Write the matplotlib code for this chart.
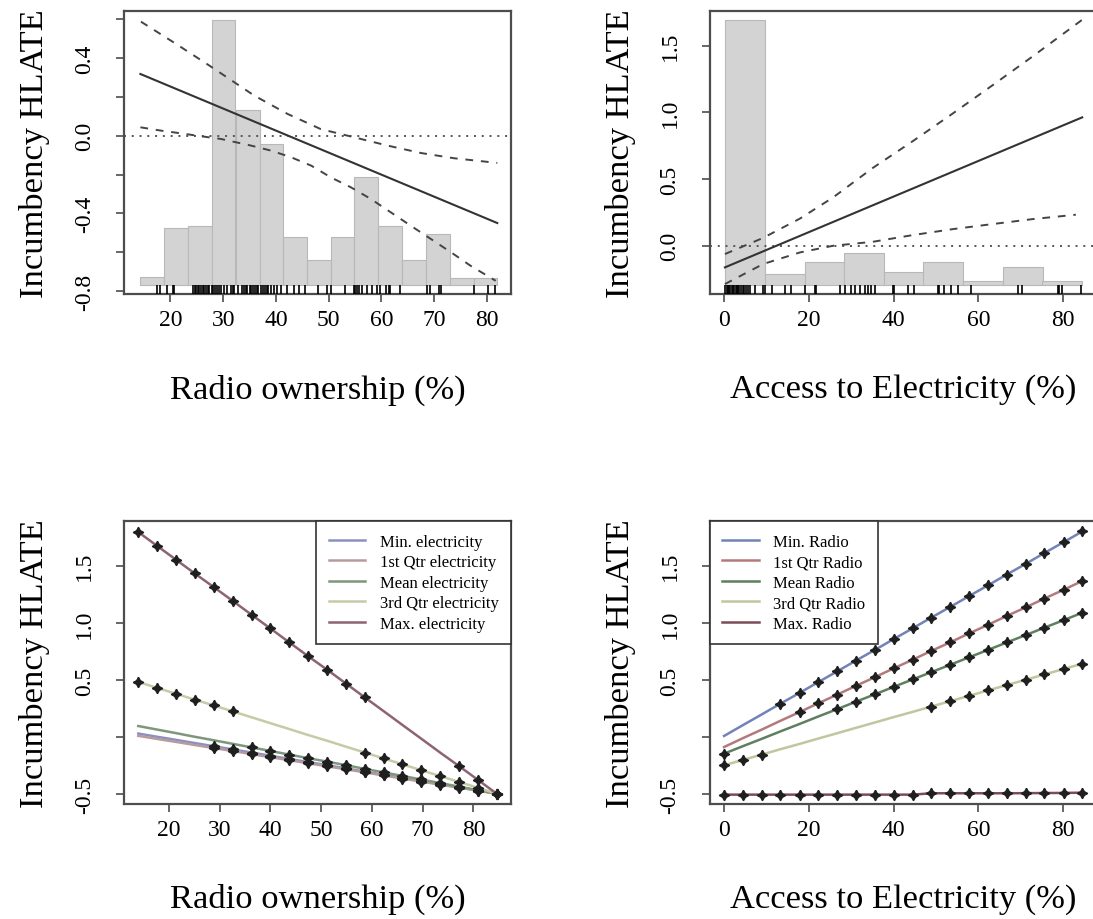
import matplotlib
matplotlib.use("Agg")
import matplotlib.pyplot as plt

plt.rcParams['font.family'] = ['Liberation Serif', 'DejaVu Serif']

# ---- top left: marginal effect of radio ownership ----
radio_bin_left = [14.3, 18.8, 23.3, 27.8, 32.4, 36.9, 41.4, 45.9, 50.4, 54.9, 59.4, 63.9, 68.5, 73.0, 77.5]
radio_bin_width = 4.5
radio_hist_top = [-0.728, -0.473, -0.463, 0.596, 0.134, -0.044, -0.519, -0.639, -0.519, -0.211,
                  -0.463, -0.639, -0.507, -0.733, -0.733]
radio_hist_base = -0.768

radio_line_x = [14.3, 82.0]
radio_line_y = [0.317, -0.449]
radio_upper_x = [14.4, 21.1, 27.4, 35.9, 42.2, 48.5, 54.8, 61.2, 67.5, 73.8, 82.0]
radio_upper_y = [0.586, 0.471, 0.360, 0.206, 0.112, 0.034, -0.008, -0.051, -0.089, -0.116, -0.140]
radio_lower_x = [14.3, 18.2, 22.0, 25.8, 29.6, 35.3, 39.1, 42.9, 46.7, 50.4, 54.2, 58.0, 61.8,
                 65.6, 69.4, 73.2, 76.9, 81.7]
radio_lower_y = [0.043, 0.026, 0.012, -0.003, -0.017, -0.051, -0.077, -0.111, -0.154, -0.214,
                 -0.265, -0.325, -0.394, -0.463, -0.531, -0.599, -0.668, -0.746]
radio_rug = [17.5, 18.0, 19.4, 20.4, 20.7, 24.2, 24.6, 24.9, 25.2, 25.5, 25.8, 26.1, 26.4, 26.8,
             27.1, 27.4, 27.8, 28.1, 28.5, 28.9, 29.3, 29.6, 30.2, 30.8, 31.4, 31.8, 32.1, 32.8,
             33.6, 34.0, 34.3, 34.6, 35.0, 35.3, 35.7, 36.0, 36.4, 36.7, 37.1, 37.5, 37.9, 38.3,
             38.6, 39.0, 39.6, 40.3, 40.9, 42.2, 43.4, 44.4, 45.6, 47.9, 49.7, 50.4, 53.2, 54.8,
             55.1, 55.4, 55.7, 56.4, 57.3, 58.3, 59.2, 59.8, 60.8, 61.4, 61.7, 63.6, 68.7, 69.3,
             70.9, 71.4, 77.5, 80.2, 81.6]

# ---- top right: marginal effect of electricity ----
elec_bin_left = [0.2, 9.6, 19.0, 28.3, 37.7, 47.0, 56.4, 65.8, 75.1]
elec_bin_width = 9.4
elec_hist_top = [1.695, -0.212, -0.125, -0.055, -0.195, -0.125, -0.263, -0.158, -0.263]
elec_hist_base = -0.295

elec_line_x = [0.2, 84.5]
elec_line_y = [-0.162, 0.963]
elec_upper_x = [0.2, 9.2, 17.9, 25.7, 35.1, 44.5, 54.0, 63.4, 72.8, 84.5]
elec_upper_y = [-0.062, 0.059, 0.204, 0.362, 0.584, 0.784, 0.993, 1.205, 1.420, 1.695]
elec_lower_x = [0.2, 9.2, 17.9, 25.7, 35.1, 44.5, 54.0, 63.4, 72.8, 83.0]
elec_lower_y = [-0.287, -0.137, -0.050, 0.000, 0.030, 0.080, 0.125, 0.163, 0.200, 0.233]
elec_rug = [0.3, 0.6, 0.9, 1.2, 1.5, 1.8, 2.1, 2.4, 2.7, 3.0, 3.3, 3.6, 4.0, 4.4, 4.8, 5.2, 5.6,
            6.0, 7.3, 9.2, 9.6, 11.2, 14.4, 15.9, 19.1, 21.4, 21.8, 27.3, 28.5, 30.0, 30.8, 32.0,
            33.2, 34.0, 34.7, 35.5, 39.8, 40.2, 43.4, 44.9, 50.4, 50.8, 52.0, 53.6, 55.1, 58.3,
            69.3, 70.4, 78.7, 79.1, 79.8, 84.2]

# ---- bottom left: predicted effect by radio at levels of electricity ----
radio_grid = [14.0, 17.7, 21.4, 25.1, 28.9, 32.6, 36.3, 40.0, 43.7, 47.4, 51.2, 54.9, 58.6, 62.3,
              66.0, 69.7, 73.4, 77.2, 80.9, 84.6]
by_elec_labels = ['Min. electricity', '1st Qtr electricity', 'Mean electricity',
                  '3rd Qtr electricity', 'Max. electricity']
by_elec_colors = ['#8a90c0', '#b99a9c', '#7c977c', '#c3cca6', '#8c6474']
by_elec_values = [
    [0.030, 0.002, -0.025, -0.053, -0.081, -0.109, -0.136, -0.164, -0.192, -0.219, -0.247,
     -0.275, -0.303, -0.331, -0.358, -0.386, -0.414, -0.441, -0.469, -0.497],
    [0.010, -0.017, -0.043, -0.070, -0.097, -0.123, -0.150, -0.177, -0.203, -0.230, -0.257,
     -0.283, -0.310, -0.337, -0.364, -0.390, -0.417, -0.444, -0.470, -0.497],
    [0.096, 0.065, 0.034, 0.002, -0.029, -0.060, -0.091, -0.122, -0.154, -0.185, -0.216,
     -0.247, -0.279, -0.310, -0.341, -0.372, -0.403, -0.435, -0.466, -0.497],
    [0.482, 0.430, 0.379, 0.327, 0.276, 0.224, 0.173, 0.121, 0.070, 0.018, -0.033, -0.085,
     -0.136, -0.188, -0.239, -0.291, -0.342, -0.394, -0.445, -0.497],
    [1.795, 1.674, 1.554, 1.433, 1.312, 1.192, 1.071, 0.951, 0.830, 0.709, 0.589, 0.468,
     0.347, 0.227, 0.106, -0.014, -0.135, -0.256, -0.376, -0.497],
]
by_elec_marked = [
    list(range(4, 20)),
    list(range(4, 20)),
    list(range(6, 20)),
    [0, 1, 2, 3, 4, 5, 12, 13, 14, 15, 16, 17, 18, 19],
    [0, 1, 2, 3, 4, 5, 6, 7, 8, 9, 10, 11, 12, 17, 18, 19],
]

# ---- bottom right: predicted effect by electricity at levels of radio ----
elec_grid = [0.0, 4.4, 8.9, 13.3, 17.8, 22.2, 26.7, 31.1, 35.6, 40.0, 44.5, 48.9, 53.4, 57.8,
             62.3, 66.7, 71.2, 75.6, 80.1, 84.5]
by_radio_labels = ['Min. Radio', '1st Qtr Radio', 'Mean Radio', '3rd Qtr Radio', 'Max. Radio']
by_radio_colors = ['#7183b7', '#b27a7c', '#5f7f5f', '#bec79e', '#7c4c58']
by_radio_values = [
    [0.009, 0.103, 0.198, 0.292, 0.386, 0.480, 0.575, 0.669, 0.763, 0.857, 0.952, 1.046,
     1.140, 1.234, 1.329, 1.423, 1.517, 1.612, 1.706, 1.800],
    [-0.088, -0.011, 0.065, 0.142, 0.218, 0.295, 0.371, 0.448, 0.524, 0.601, 0.677, 0.754,
     0.830, 0.907, 0.983, 1.060, 1.136, 1.213, 1.289, 1.366],
    [-0.146, -0.081, -0.016, 0.049, 0.114, 0.179, 0.244, 0.309, 0.374, 0.439, 0.504, 0.568,
     0.633, 0.698, 0.763, 0.828, 0.893, 0.958, 1.023, 1.088],
    [-0.248, -0.201, -0.154, -0.107, -0.061, -0.014, 0.033, 0.080, 0.127, 0.174, 0.220,
     0.267, 0.314, 0.361, 0.408, 0.455, 0.501, 0.548, 0.595, 0.642],
    [-0.505, -0.505, -0.505, -0.505, -0.505, -0.505, -0.505, -0.505, -0.505, -0.505, -0.505,
     -0.493, -0.493, -0.493, -0.493, -0.493, -0.492, -0.491, -0.490, -0.488],
]
by_radio_marked = [
    list(range(3, 20)),
    list(range(4, 20)),
    [0] + list(range(6, 20)),
    [0, 1, 2] + list(range(11, 20)),
    list(range(20)),
]

BOX = '#4d4d4d'
LINE = '#333333'


def style_axes(ax, xlim, ylim, xticks, yticks, ylabels, xlabel):
    ax.set_xlim(*xlim)
    ax.set_ylim(*ylim)
    ax.set_xticks(xticks, labels=[str(t) for t in xticks])
    ax.set_yticks(yticks, labels=ylabels)
    for lbl in ax.get_yticklabels():
        lbl.set_rotation(90)
        lbl.set_va('center')
    for s in ax.spines.values():
        s.set_color(BOX)
        s.set_linewidth(1.6)
    ax.tick_params(axis='both', direction='out', length=6, width=1.2, color=BOX,
                   labelsize=17)
    ax.tick_params(axis='x', pad=5)
    ax.tick_params(axis='y', pad=15)
    ax.set_xlabel(xlabel, fontsize=24.8, labelpad=31)
    ax.set_ylabel('Incumbency HLATE', fontsize=24.8, labelpad=17)


def draw_effect(ax, bin_left, width, tops, base, lx, ly, ux, uy, dx, dy, rug):
    ax.bar(bin_left, [t - base for t in tops], width=width, bottom=base, align='edge',
           color='#d3d3d3', edgecolor='#b8b8b8', linewidth=0.8, zorder=1)
    ax.axhline(0, color='#555555', lw=1.4, ls=(0, (1, 3)), zorder=2)
    ax.plot(lx, ly, color=LINE, lw=1.5, zorder=3)
    ax.plot(ux, uy, color='#444444', lw=1.4, ls=(0, (4, 4)), zorder=3)
    ax.plot(dx, dy, color='#444444', lw=1.4, ls=(0, (4, 4)), zorder=3)
    ax.vlines(rug, 0, 0.033, transform=ax.get_xaxis_transform(), color='black', lw=1.2,
              zorder=4)


def draw_lines(ax, grid, values, marked, colors, labels, loc):
    for vals, idx, col, lab in zip(values, marked, colors, labels):
        ax.plot(grid, vals, color=col, lw=1.8, label=lab, zorder=2)
        ax.plot([grid[i] for i in idx], [vals[i] for i in idx], ls='none',
                marker=(4, 1, 0), ms=7.5, color='#1f1f1f', zorder=3)
    leg = ax.legend(loc=loc, borderaxespad=0, fancybox=False, framealpha=1,
                    edgecolor='#333333', fontsize=12.0, handlelength=2.2,
                    handletextpad=0.85, labelspacing=0.27, borderpad=0.75)
    leg.get_frame().set_linewidth(1.2)


fig = plt.figure(figsize=(10.93, 9.2), dpi=100)

ax1 = fig.add_axes([0.1135, 0.6793, 0.354, 0.3077])
draw_effect(ax1, radio_bin_left, radio_bin_width, radio_hist_top, radio_hist_base,
            radio_line_x, radio_line_y, radio_upper_x, radio_upper_y,
            radio_lower_x, radio_lower_y, radio_rug)
style_axes(ax1, (11.2, 84.6), (-0.814, 0.641), [20, 30, 40, 50, 60, 70, 80],
           [-0.8, -0.6, -0.4, -0.2, 0.0, 0.2, 0.4, 0.6],
           ['-0.8', '', '-0.4', '', '0.0', '', '0.4', ''], 'Radio ownership (%)')

ax2 = fig.add_axes([0.6493, 0.6793, 0.354, 0.3077])
draw_effect(ax2, elec_bin_left, elec_bin_width, elec_hist_top, elec_hist_base,
            elec_line_x, elec_line_y, elec_upper_x, elec_upper_y,
            elec_lower_x, elec_lower_y, elec_rug)
style_axes(ax2, (-3.4, 87.9), (-0.362, 1.761), [0, 20, 40, 60, 80],
           [0.0, 0.5, 1.0, 1.5], ['0.0', '0.5', '1.0', '1.5'], 'Access to Electricity (%)')

ax3 = fig.add_axes([0.1135, 0.1255, 0.354, 0.307])
draw_lines(ax3, radio_grid, by_elec_values, by_elec_marked, by_elec_colors, by_elec_labels,
           'upper right')
style_axes(ax3, (11.2, 87.4), (-0.583, 1.891), [20, 30, 40, 50, 60, 70, 80],
           [-0.5, 0.0, 0.5, 1.0, 1.5], ['-0.5', '', '0.5', '1.0', '1.5'],
           'Radio ownership (%)')

ax4 = fig.add_axes([0.6493, 0.1255, 0.354, 0.307])
draw_lines(ax4, elec_grid, by_radio_values, by_radio_marked, by_radio_colors, by_radio_labels,
           'upper left')
style_axes(ax4, (-3.4, 87.9), (-0.583, 1.891), [0, 20, 40, 60, 80],
           [-0.5, 0.0, 0.5, 1.0, 1.5], ['-0.5', '', '0.5', '1.0', '1.5'],
           'Access to Electricity (%)')

fig.savefig('out.png', dpi=100)
